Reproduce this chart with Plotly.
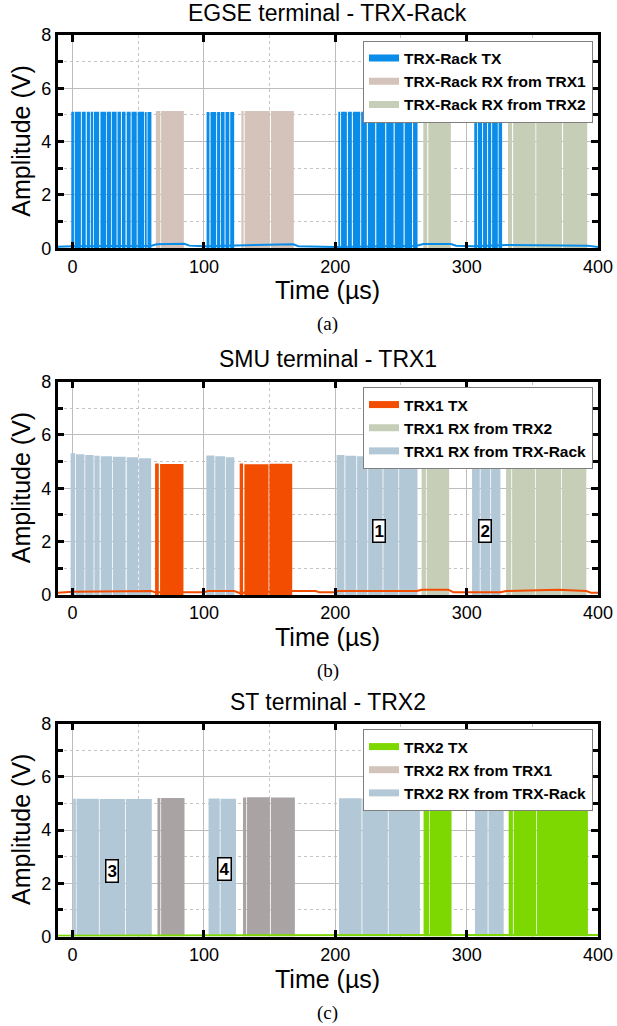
import plotly.graph_objects as go

# ---------------- data ----------------
# pulse groups: (start µs, end µs, high level V)
a_tx = [(-1, 1, 5.12), (1.6, 6.3, 5.12), (7, 10, 5.12), (10.8, 13.2, 5.12), (13.8, 15.7, 5.12),
        (16.3, 20.2, 5.12), (21.2, 25.4, 5.12), (26, 29.2, 5.12), (29.8, 33.5, 5.12), (34.2, 36.8, 5.12),
        (37.5, 40.3, 5.12), (41.2, 44.2, 5.12), (44.9, 48.8, 5.12), (49.5, 54.4, 5.12), (55, 56.4, 5.11),
        (57, 60, 5.11),
        (102, 104.2, 5.11), (105, 109.3, 5.11), (110, 112.4, 5.11), (113, 115.7, 5.11), (116.4, 119.3, 5.11),
        (120, 123, 5.11),
        (202.3, 203.7, 5.12), (204.4, 208.8, 5.12), (209.6, 212.6, 5.12), (213.4, 219, 5.12), (219.7, 224, 5.12),
        (224.8, 230.4, 5.12), (231.2, 238, 5.12), (238.8, 244.4, 5.11), (245.2, 252, 5.11), (252.8, 258.4, 5.11),
        (259.2, 262.6, 5.11),
        (305.8, 308, 5.12), (308.6, 311.8, 5.12), (312.5, 315.6, 5.12), (316.3, 318.7, 5.12), (319.4, 323.7, 5.12),
        (324.3, 327, 5.12)]
a_rx_trx1 = [(63.4, 66.8, 5.15), (67.4, 84.7, 5.15), (128.5, 130.2, 5.15), (131, 150.2, 5.15), (151, 168.4, 5.15)]
a_rx_trx2 = [(267, 270, 5.15), (270.8, 288, 5.15), (331.5, 334.6, 5.15), (335.4, 352.4, 5.15),
             (353, 372.6, 5.15), (373.4, 391.8, 5.15)]
a_tx_base_t = [-11.5, 0, 60, 64, 85, 89, 100, 123, 128, 168, 172, 200, 262, 267, 288, 292, 305, 327, 331, 392, 400]
a_tx_base_v = [0.06, 0.08, 0.1, 0.15, 0.17, 0.1, 0.08, 0.1, 0.13, 0.15, 0.08, 0.05, 0.1, 0.16, 0.16, 0.1, 0.08,
               0.1, 0.12, 0.1, 0.05]

b_tx = [(62.8, 65.6, 4.93), (66.6, 84.4, 4.91), (127.2, 129.8, 4.93), (130.8, 149.2, 4.9), (149.8, 167.2, 4.92)]
b_rx_rack = [(-1.5, 2, 5.31), (2.6, 9, 5.27), (9.6, 16, 5.25), (16.6, 20.6, 5.22), (21.4, 30, 5.2),
             (30.6, 40.4, 5.18), (41.2, 50, 5.16), (50.6, 59.8, 5.12),
             (101.8, 108, 5.23), (108.6, 116, 5.2), (116.6, 123.1, 5.16),
             (201, 207, 5.25), (207.6, 216, 5.22), (216.6, 224.4, 5.2), (225, 236, 5.18), (236.6, 248, 5.15),
             (248.6, 262.6, 5.1),
             (304.1, 310, 5.15), (310.6, 318, 5.14), (318.6, 325.7, 5.12)]
b_rx_trx2 = [(265.7, 269, 5.22), (269.6, 286.7, 5.21), (330, 334, 5.25), (334.6, 352, 5.22),
             (352.6, 372, 5.2), (372.6, 391.1, 5.18)]
b_tx_base_t = [-11.5, 0, 60, 63, 85, 100, 103, 123, 127, 168, 185, 188, 200, 202, 262, 266, 286, 290, 304, 326,
               330, 370, 391, 395, 400]
b_tx_base_v = [0.08, 0.12, 0.15, 0.1, 0.1, 0.1, 0.15, 0.15, 0.08, 0.15, 0.15, 0.1, 0.1, 0.15, 0.15, 0.2, 0.2,
               0.1, 0.1, 0.1, 0.15, 0.2, 0.15, 0.08, 0.08]

c_tx = [(267.2, 271.5, 5.1), (272, 288.5, 5.08), (332, 335.2, 5.1), (335.8, 353, 5.08), (353.6, 392.3, 5.08)]
c_rx_trx1 = [(64.6, 66.8, 5.2), (67.4, 85.2, 5.2), (129.7, 132.2, 5.22), (132.8, 150.2, 5.23), (150.9, 169.2, 5.22)]
c_rx_rack = [(0.4, 2.5, 5.17), (3, 20, 5.17), (20.6, 40, 5.16), (40.6, 60.3, 5.16),
             (103.5, 112, 5.18), (112.6, 124.4, 5.17),
             (202.8, 220, 5.19), (220.6, 240, 5.18), (240.6, 264.4, 5.17),
             (306.3, 316, 5.17), (316.6, 328.2, 5.16)]
c_tx_base_t = [-11.5, 100, 200, 300, 400]
c_tx_base_v = [0.03, 0.05, 0.05, 0.06, 0.06]

titles = ["EGSE terminal - TRX-Rack", "SMU terminal - TRX1", "ST terminal - TRX2"]
captions = ["(a)", "(b)", "(c)"]
legend_names = [["TRX-Rack TX", "TRX-Rack RX from TRX1", "TRX-Rack RX from TRX2"],
                ["TRX1 TX", "TRX1 RX from TRX2", "TRX1 RX from TRX-Rack"],
                ["TRX2 TX", "TRX2 RX from TRX1", "TRX2 RX from TRX-Rack"]]
marker_labels = ["1", "2", "3", "4"]
marker_t = [233, 314, 30, 116]
marker_v = [2.4, 2.4, 2.45, 2.52]
marker_panel = [1, 1, 2, 2]

x_ticks = [0, 100, 200, 300, 400]
y_ticks = [0, 2, 4, 6, 8]

# ---------------- styling ----------------
BLUE = "#0A8CE9"
BROWN = "#D4C3BA"
GREENRX = "#C6CEB7"
LBLUE = "#B3C8D7"
ORANGE = "#F24D00"
GREENTX = "#7DD700"
GRAY = "#A9A3A3"
FONT = "Liberation Sans"

W, H = 617, 1026
tops = [35, 381.5, 723.5]
bottoms = [248.3, 595, 936.5]
x_left, x_right = 57.5, 598


def pulses(segs):
    xs, ys = [], []
    for s, e, v in segs:
        xs += [s, s, e, e, None]
        ys += [0, v, v, 0, None]
    return xs, ys


fig = go.Figure()

panels = [
    dict(fills=[(a_rx_trx1, BROWN), (a_rx_trx2, GREENRX), (a_tx, BLUE)],
         base=(a_tx_base_t, a_tx_base_v, BLUE),
         leg=[BLUE, BROWN, GREENRX]),
    dict(fills=[(b_rx_rack, LBLUE), (b_rx_trx2, GREENRX), (b_tx, ORANGE)],
         base=(b_tx_base_t, b_tx_base_v, ORANGE),
         leg=[ORANGE, GREENRX, LBLUE]),
    dict(fills=[(c_rx_rack, LBLUE), (c_rx_trx1, GRAY), (c_tx, GREENTX)],
         base=(c_tx_base_t, c_tx_base_v, GREENTX),
         leg=[GREENTX, BROWN, LBLUE]),
]

for i, p in enumerate(panels):
    xa = "x" if i == 0 else f"x{i+1}"
    ya = "y" if i == 0 else f"y{i+1}"
    lg = "legend" if i == 0 else f"legend{i+1}"
    for segs, col in p["fills"]:
        xs, ys = pulses(segs)
        fig.add_trace(go.Scatter(x=xs, y=ys, mode="lines", fill="toself", fillcolor=col,
                                 line=dict(width=0, color=col), xaxis=xa, yaxis=ya,
                                 showlegend=False, hoverinfo="skip"))
    bt, bv, bc = p["base"]
    fig.add_trace(go.Scatter(x=bt, y=bv, mode="lines", line=dict(color=bc, width=2),
                             xaxis=xa, yaxis=ya, showlegend=False, hoverinfo="skip"))
    for name, col in zip(legend_names[i], p["leg"]):
        fig.add_trace(go.Scatter(x=[None], y=[None], mode="lines", name=name,
                                 line=dict(color=col, width=7), xaxis=xa, yaxis=ya,
                                 legend=lg, showlegend=True))

layout = dict(width=W, height=H, margin=dict(l=0, r=0, t=0, b=0, autoexpand=False),
              paper_bgcolor="white", plot_bgcolor="white", showlegend=True,
              font=dict(family=FONT, color="black"))

annotations = []
for i in range(3):
    sx = "" if i == 0 else str(i + 1)
    dom_y = [1 - bottoms[i] / H, 1 - tops[i] / H]
    layout["xaxis" + sx] = dict(
        domain=[x_left / W, x_right / W], range=[-11.5, 400], anchor="y" + sx, automargin=False,
        tickvals=x_ticks, ticks="inside", ticklen=7, tickwidth=2.5, tickcolor="black",
        showline=True, linewidth=2.5, linecolor="black", mirror="ticks",
        showgrid=True, gridcolor="#BDBDBD", gridwidth=1, zeroline=False,
        minor=dict(dtick=50, tick0=0, showgrid=True, griddash="dot", gridcolor="#C4C4C4", ticks=""),
        tickfont=dict(size=18, family=FONT, color="black"))
    layout["yaxis" + sx] = dict(
        domain=dom_y, range=[0, 8], anchor="x" + sx, automargin=False,
        tickvals=y_ticks, ticks="inside", ticklen=7, tickwidth=2.5, tickcolor="black",
        showline=True, linewidth=2.5, linecolor="black", mirror="ticks",
        showgrid=True, gridcolor="#BDBDBD", gridwidth=1, zeroline=False,
        minor=dict(dtick=1, tick0=0, showgrid=True, griddash="dot", gridcolor="#C4C4C4",
                   ticks="inside", ticklen=6, tickwidth=2.5, tickcolor="black"),
        tickfont=dict(size=18, family=FONT, color="black"))
    lg = "legend" if i == 0 else f"legend{i+1}"
    layout[lg] = dict(x=593 / W, xanchor="right", y=1 - (tops[i] + 5.5) / H, yanchor="top",
                      bgcolor="white", bordercolor="#7F7F7F", borderwidth=1,
                      font=dict(family=FONT, size=15.5, color="black", weight="bold"),
                      tracegroupgap=0, itemwidth=30)
    cx = (x_left + x_right) / 2 / W
    annotations.append(dict(text=titles[i], x=cx, y=1 - (tops[i] - 22) / H, xref="paper", yref="paper",
                            showarrow=False, xanchor="center", yanchor="middle",
                            font=dict(size=23, family=FONT, color="black")))
    annotations.append(dict(text="Time (µs)", x=cx, y=1 - (bottoms[i] + 42) / H, xref="paper", yref="paper",
                            showarrow=False, xanchor="center", yanchor="middle",
                            font=dict(size=25, family=FONT, color="black")))
    annotations.append(dict(text="Amplitude (V)", x=21 / W, y=1 - (tops[i] + bottoms[i]) / 2 / H,
                            xref="paper", yref="paper", textangle=-90,
                            showarrow=False, xanchor="center", yanchor="middle",
                            font=dict(size=25, family=FONT, color="black")))
    annotations.append(dict(text=captions[i], x=cx, y=1 - (bottoms[i] + 76) / H, xref="paper", yref="paper",
                            showarrow=False, xanchor="center", yanchor="middle",
                            font=dict(size=19, family="Liberation Serif", color="black")))

for lab, t, v, pi in zip(marker_labels, marker_t, marker_v, marker_panel):
    sx = "" if pi == 0 else str(pi + 1)
    annotations.append(dict(text="<b>" + lab + "</b>", x=t, y=v, xref="x" + sx, yref="y" + sx,
                            showarrow=False, bgcolor="white", bordercolor="black", borderwidth=1.5,
                            borderpad=1, font=dict(size=17, family=FONT, color="black")))

layout["annotations"] = annotations
fig.update_layout(**layout)
fig.write_html("out.html", config={"displayModeBar": False},
               post_script="document.body.style.margin='0px';document.body.style.padding='0px';")
